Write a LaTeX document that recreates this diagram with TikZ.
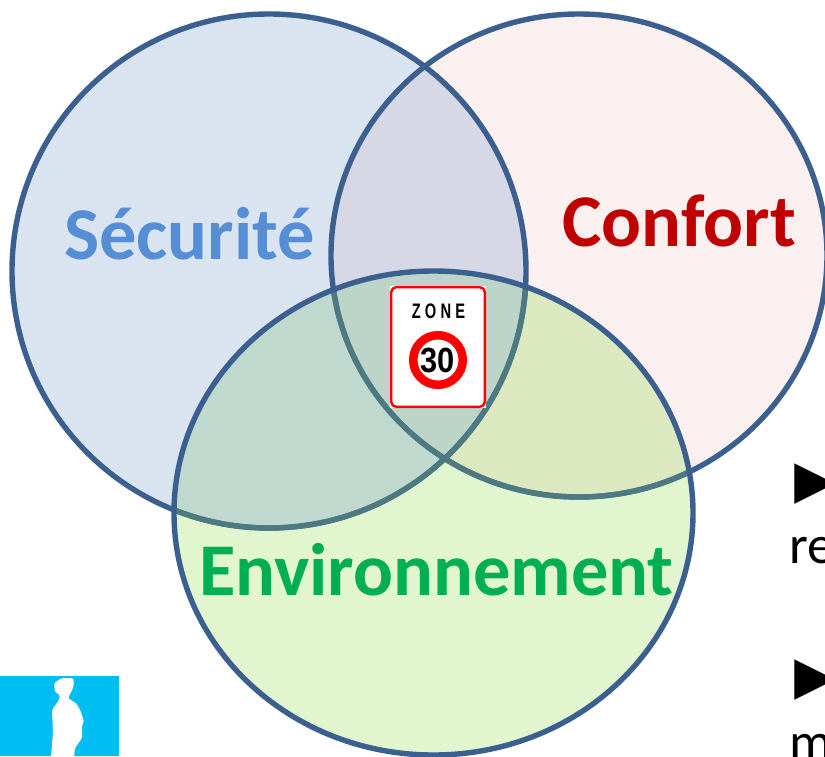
\documentclass[tikz,border=0pt]{standalone}
\usepackage{fontspec}
\setmainfont{Carlito}
\newfontfamily\liberation{Liberation Sans}
\definecolor{secfill}{HTML}{DAE4F1}
\definecolor{conffill}{HTML}{FBF0F0}
\definecolor{envfill}{HTML}{E1F5CF}
\definecolor{secconf}{HTML}{D6D8E6}
\definecolor{secenv}{HTML}{C0D9CF}
\definecolor{confenv}{HTML}{DCE8C0}
\definecolor{allthree}{HTML}{BDD5C8}
\definecolor{ring}{HTML}{3B5F8F}
\definecolor{ringenv}{HTML}{4D7A80}
\definecolor{sectext}{HTML}{558ED5}
\definecolor{conftext}{HTML}{C00000}
\definecolor{envtext}{HTML}{00B050}
\definecolor{skyblock}{HTML}{00BEF2}
\tikzset{
  bigword/.style={font=\fontsize{74.4}{74.4}\selectfont\bfseries,anchor=base west,inner sep=0pt},
  sidetext/.style={font=\fontsize{54}{54}\selectfont,anchor=base west,inner sep=0pt},
  bullet/.style={font=\liberation\fontsize{68}{68}\selectfont,anchor=base west,inner sep=0pt},
  ringline/.style={line width=5.4pt}
}
\newcommand{\secpath}{(269,271) ellipse [x radius=257,y radius=257]}
\newcommand{\confpath}{(579,255.5) ellipse [x radius=248,y radius=241.5]}
\newcommand{\envpath}{(433.5,513) ellipse [x radius=259.5,y radius=242]}
\begin{document}
\begin{tikzpicture}[x=1pt,y=-1pt]
\useasboundingbox (0,0) rectangle (825,756);
\clip (0,0) rectangle (825,756);
\fill[white] (0,0) rectangle (825,756);
% fills
\fill[secfill] \secpath;
\fill[conffill] \confpath;
\fill[envfill] \envpath;
\begin{scope}\clip \secpath; \fill[secconf] \confpath; \end{scope}
\begin{scope}\clip \secpath; \fill[secenv] \envpath; \end{scope}
\begin{scope}\clip \confpath; \fill[confenv] \envpath; \end{scope}
\begin{scope}\clip \secpath; \clip \confpath; \fill[allthree] \envpath; \end{scope}
% outlines
\draw[ring,ringline] \secpath;
\draw[ring,ringline] \confpath;
\begin{scope}\clip \envpath;
\draw[ringenv,ringline] \secpath;
\draw[ringenv,ringline] \confpath;
\end{scope}
\draw[ring,ringline] \envpath;
% labels
\node[bigword,text=sectext] (securite) at (64,259) {Sécurité};
\node[bigword,text=conftext] (confort) at (562,246) {Confort};
\node[bigword,text=envtext] (environnement) at (199,595) {Environnement};
% sign
\fill[white] (390,286) rectangle (486,408);
\draw[red,line width=2.4pt,fill=white,rounded corners=5pt] (391.2,287.2) rectangle (484.8,406.8);
\node[font=\liberation\fontsize{21}{21}\selectfont\bfseries,inner sep=0pt,anchor=base] (zone) at (438.5,318) {\scalebox{0.7}[1]{Z\hspace{6pt}O\hspace{6pt}N\hspace{6pt}E}};
\draw[red,line width=8.5pt,fill=white] (438,360) circle (24.8);
\node[font=\liberation\fontsize{35}{35}\selectfont\bfseries,inner sep=0pt] (limit) at (438,360) {\scalebox{0.88}[1]{30}};
% person tile
\fill[skyblock] (0,676) rectangle (119,756);
\fill[white,rounded corners=1.5pt] (54,683) -- (62,678) -- (73,678) -- (74,682) -- (73,688) -- (70,694) -- (68,698) -- (77,704) -- (81,712) -- (84,722) -- (82,725) -- (82,738) -- (75,748) -- (74,757) -- (51,757) -- (52,745) -- (53,732) -- (52,710) -- (59,700) -- (60,695) -- (55,692) -- cycle;
% side text
\node[bullet] (b1) at (781,503) {►};
\node[sidetext] (t1) at (789,563) {re};
\node[bullet] (b2) at (781,699) {►};
\node[sidetext] (t2) at (789,760) {m};
\end{tikzpicture}
\end{document}
